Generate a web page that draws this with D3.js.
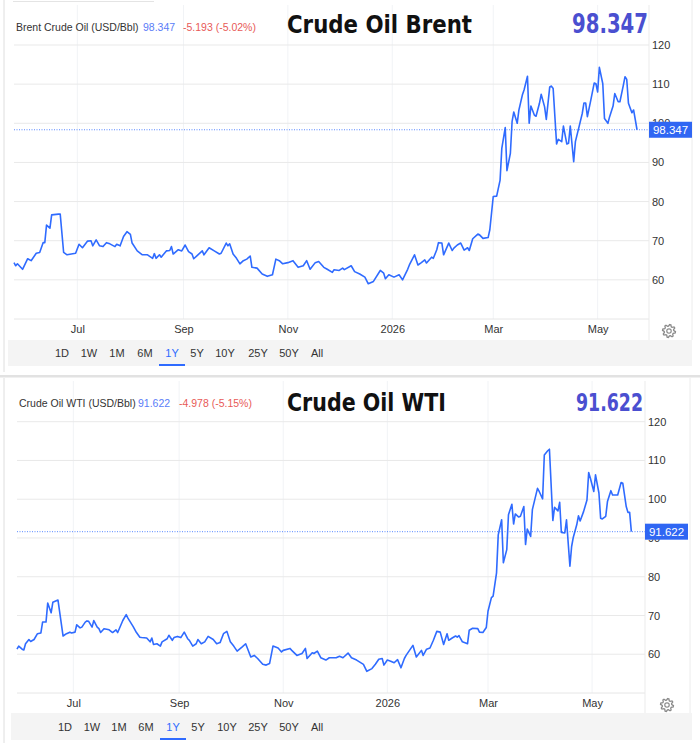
<!DOCTYPE html>
<html>
<head>
<meta charset="utf-8">
<script src="https://cdn.jsdelivr.net/npm/d3@7"></script>
<style>
  body { margin: 0; background: #fff; }
  svg text { font-family: "Liberation Sans", Arial, sans-serif; }
</style>
</head>
<body>
<svg id="chart" width="700" height="743"></svg>
<script>
// ---- dados ----
const yTicks = [60, 70, 80, 90, 100, 110, 120];
const monthTicks = ["2025-07-01", "2025-09-01", "2025-11-01", "2026-01-01", "2026-03-01", "2026-05-01"];
const monthLabels = ["Jul", "Sep", "Nov", "2026", "Mar", "May"];
const rangeButtons = ["1D", "1W", "1M", "6M", "1Y", "5Y", "10Y", "25Y", "50Y", "All"];
const activeRange = "1Y";

const brentDates = [
  "2025-05-25","2025-05-26","2025-05-27","2025-05-30","2025-06-02","2025-06-04","2025-06-07","2025-06-09","2025-06-11","2025-06-12",
  "2025-06-13","2025-06-15","2025-06-16","2025-06-20","2025-06-21","2025-06-23","2025-06-25","2025-06-30","2025-07-02","2025-07-04",
  "2025-07-07","2025-07-09","2025-07-10","2025-07-12","2025-07-14","2025-07-16","2025-07-18","2025-07-20","2025-07-23","2025-07-24",
  "2025-07-26","2025-07-28","2025-07-30","2025-08-01","2025-08-02","2025-08-05","2025-08-08","2025-08-11","2025-08-14","2025-08-15",
  "2025-08-16","2025-08-18","2025-08-19","2025-08-22","2025-08-24","2025-08-25","2025-08-26","2025-08-29","2025-08-31","2025-09-02",
  "2025-09-04","2025-09-06","2025-09-07","2025-09-09","2025-09-12","2025-09-13","2025-09-16","2025-09-19","2025-09-22","2025-09-23",
  "2025-09-26","2025-09-27","2025-09-28","2025-09-30","2025-10-02","2025-10-04","2025-10-06","2025-10-08","2025-10-10","2025-10-11",
  "2025-10-14","2025-10-17","2025-10-20","2025-10-23","2025-10-25","2025-10-27","2025-10-29","2025-11-01","2025-11-04","2025-11-07",
  "2025-11-10","2025-11-12","2025-11-14","2025-11-17","2025-11-19","2025-11-22","2025-11-24","2025-11-27","2025-11-28","2025-12-01",
  "2025-12-03","2025-12-04","2025-12-08","2025-12-10","2025-12-13","2025-12-16","2025-12-18","2025-12-21","2025-12-25","2025-12-27",
  "2025-12-28","2025-12-30","2026-01-02","2026-01-05","2026-01-07","2026-01-10","2026-01-11","2026-01-14","2026-01-16","2026-01-18",
  "2026-01-20","2026-01-21","2026-01-24","2026-01-25","2026-01-27","2026-01-28","2026-01-30","2026-01-31","2026-02-03","2026-02-05",
  "2026-02-06","2026-02-08","2026-02-10","2026-02-12","2026-02-14","2026-02-15","2026-02-17","2026-02-20","2026-02-21","2026-02-23",
  "2026-02-26","2026-02-27","2026-03-01","2026-03-03","2026-03-05","2026-03-06","2026-03-08","2026-03-09","2026-03-11","2026-03-12",
  "2026-03-13","2026-03-15","2026-03-16","2026-03-18","2026-03-19","2026-03-21","2026-03-22","2026-03-23","2026-03-25","2026-03-26",
  "2026-03-28","2026-03-29","2026-03-31","2026-04-01","2026-04-03","2026-04-04","2026-04-05","2026-04-07","2026-04-08","2026-04-10",
  "2026-04-11","2026-04-13","2026-04-14","2026-04-15","2026-04-17","2026-04-18","2026-04-20","2026-04-22","2026-04-23","2026-04-24",
  "2026-04-25","2026-04-27","2026-04-29","2026-04-30","2026-05-01","2026-05-02","2026-05-04","2026-05-05","2026-05-07","2026-05-08",
  "2026-05-10","2026-05-11","2026-05-13","2026-05-14","2026-05-16","2026-05-17","2026-05-18","2026-05-19","2026-05-21","2026-05-22",
  "2026-05-24"
];
const brentValues = [
  64.4, 63.6, 64.1, 62.7, 65.4, 64.9, 66.8, 67.0, 69.5, 69.5,
  74.0, 73.2, 76.6, 76.8, 76.8, 67.0, 66.4, 66.8, 69.1, 68.2,
  69.9, 70.0, 68.7, 70.2, 68.7, 68.5, 69.5, 69.2, 68.5, 69.1,
  68.7, 71.1, 72.3, 71.6, 69.4, 67.4, 66.4, 66.4, 65.5, 66.7,
  65.5, 66.4, 65.8, 67.4, 67.5, 68.5, 66.6, 67.7, 67.4, 68.9,
  67.2, 66.6, 65.4, 66.2, 67.4, 66.4, 68.2, 67.4, 66.6, 66.8,
  69.4, 68.7, 69.2, 66.6, 65.5, 64.1, 64.9, 65.3, 66.1, 63.2,
  63.0, 61.5, 60.9, 61.3, 65.3, 64.9, 64.1, 64.4, 64.9, 63.2,
  63.6, 64.9, 62.7, 64.4, 64.7, 63.2, 62.7, 61.9, 62.6, 62.4,
  63.0, 62.6, 63.6, 62.1, 61.5, 60.7, 59.0, 59.6, 62.4, 61.7,
  60.3, 61.3, 60.7, 61.3, 60.0, 62.7, 63.8, 66.4, 63.8, 64.4,
  65.1, 64.3, 65.8, 65.5, 67.7, 69.5, 69.4, 66.4, 69.4, 67.5,
  68.1, 68.9, 69.4, 67.6, 68.2, 67.5, 70.5, 71.7, 71.5, 70.6,
  70.8, 72.8, 81.3, 81.4, 85.5, 93.6, 98.9, 87.9, 92.3, 100.4,
  102.9, 100.0, 103.4, 107.2, 108.5, 112.0, 100.0, 104.4, 102.1, 101.8,
  105.1, 107.4, 104.2, 101.0, 109.3, 109.5, 108.9, 94.7, 95.9, 95.3,
  99.3, 94.7, 94.9, 99.3, 90.2, 95.3, 98.9, 102.5, 105.2, 105.2,
  101.7, 105.9, 110.3, 110.1, 108.0, 114.3, 110.1, 101.2, 100.0, 101.7,
  104.4, 107.6, 105.5, 105.5, 109.7, 111.9, 111.2, 105.1, 102.7, 103.4,
  98.347
];

const wtiDates = [
  "2025-05-29","2025-05-30","2025-06-01","2025-06-02","2025-06-03","2025-06-05","2025-06-06","2025-06-08","2025-06-10","2025-06-12",
  "2025-06-13","2025-06-15","2025-06-16","2025-06-18","2025-06-19","2025-06-21","2025-06-22","2025-06-25","2025-06-27","2025-06-29",
  "2025-06-30","2025-07-02","2025-07-03","2025-07-05","2025-07-06","2025-07-08","2025-07-09","2025-07-10","2025-07-12","2025-07-13",
  "2025-07-15","2025-07-16","2025-07-17","2025-07-19","2025-07-22","2025-07-24","2025-07-26","2025-07-27","2025-07-30","2025-08-01",
  "2025-08-02","2025-08-05","2025-08-07","2025-08-09","2025-08-10","2025-08-13","2025-08-15","2025-08-16","2025-08-17","2025-08-19",
  "2025-08-21","2025-08-22","2025-08-25","2025-08-26","2025-08-28","2025-08-29","2025-08-31","2025-09-02","2025-09-04","2025-09-06",
  "2025-09-07","2025-09-09","2025-09-11","2025-09-12","2025-09-14","2025-09-16","2025-09-18","2025-09-21","2025-09-23","2025-09-25",
  "2025-09-27","2025-09-29","2025-10-01","2025-10-03","2025-10-05","2025-10-08","2025-10-10","2025-10-13","2025-10-15","2025-10-17",
  "2025-10-20","2025-10-22","2025-10-24","2025-10-26","2025-10-29","2025-10-31","2025-11-01","2025-11-05","2025-11-06","2025-11-09",
  "2025-11-12","2025-11-14","2025-11-15","2025-11-18","2025-11-19","2025-11-21","2025-11-23","2025-11-26","2025-11-28","2025-11-30",
  "2025-12-02","2025-12-04","2025-12-06","2025-12-09","2025-12-11","2025-12-14","2025-12-18","2025-12-20","2025-12-23","2025-12-25",
  "2025-12-27","2025-12-29","2025-12-30","2026-01-01","2026-01-03","2026-01-05","2026-01-07","2026-01-09","2026-01-11","2026-01-12",
  "2026-01-16","2026-01-18","2026-01-21","2026-01-22","2026-01-24","2026-01-26","2026-01-28","2026-01-30","2026-02-01","2026-02-03",
  "2026-02-05","2026-02-06","2026-02-08","2026-02-10","2026-02-11","2026-02-12","2026-02-14","2026-02-17","2026-02-18","2026-02-20",
  "2026-02-23","2026-02-24","2026-02-26","2026-02-28","2026-03-01","2026-03-03","2026-03-04","2026-03-06","2026-03-07","2026-03-09",
  "2026-03-10","2026-03-12","2026-03-13","2026-03-15","2026-03-16","2026-03-17","2026-03-19","2026-03-20","2026-03-22","2026-03-23",
  "2026-03-24","2026-03-26","2026-03-27","2026-03-30","2026-03-31","2026-04-02","2026-04-03","2026-04-05","2026-04-06","2026-04-08",
  "2026-04-09","2026-04-11","2026-04-12","2026-04-13","2026-04-15","2026-04-16","2026-04-18","2026-04-19","2026-04-20","2026-04-22",
  "2026-04-23","2026-04-24","2026-04-26","2026-04-28","2026-04-29","2026-04-30","2026-05-02","2026-05-03","2026-05-05","2026-05-06",
  "2026-05-07","2026-05-09","2026-05-10","2026-05-12","2026-05-13","2026-05-15","2026-05-16","2026-05-18","2026-05-19","2026-05-21",
  "2026-05-22","2026-05-23","2026-05-24"
];
const wtiValues = [
  61.3, 62.1, 61.3, 61.1, 62.7, 63.8, 63.3, 63.8, 65.3, 65.5,
  68.3, 68.3, 73.2, 70.7, 73.4, 73.8, 74.0, 64.7, 65.3, 65.7,
  65.5, 65.7, 67.6, 66.8, 67.0, 68.3, 68.6, 68.5, 67.0, 68.7,
  67.0, 66.6, 65.6, 66.6, 66.3, 65.6, 66.3, 65.6, 68.7, 70.2,
  69.3, 67.2, 65.6, 64.4, 64.3, 64.2, 63.2, 64.2, 62.5, 62.7,
  62.1, 63.2, 64.0, 64.9, 63.6, 64.3, 64.6, 64.3, 65.7, 64.0,
  63.6, 62.1, 62.7, 63.8, 62.7, 63.2, 64.6, 63.8, 62.7, 63.0,
  65.3, 65.9, 63.2, 62.1, 60.8, 61.9, 62.7, 59.3, 59.7, 58.9,
  57.4, 57.2, 57.6, 62.1, 61.6, 60.6, 61.0, 61.5, 61.0, 59.7,
  60.2, 61.5, 58.9, 60.4, 60.2, 60.8, 59.1, 58.5, 59.1, 59.1,
  59.1, 59.5, 59.1, 60.3, 59.1, 58.5, 57.4, 55.6, 56.3, 57.4,
  58.7, 58.9, 57.2, 58.5, 58.2, 57.8, 58.6, 56.5, 58.9, 59.7,
  62.3, 59.3, 61.0, 59.7, 61.3, 61.6, 63.6, 65.9, 65.7, 62.5,
  65.3, 63.6, 64.2, 64.7, 64.4, 64.8, 63.2, 62.7, 66.2, 66.7,
  66.6, 65.7, 65.6, 66.9, 71.1, 74.6, 75.0, 81.0, 90.8, 94.7,
  83.6, 87.0, 96.0, 98.7, 93.6, 96.2, 95.4, 95.6, 98.1, 88.3,
  92.3, 90.4, 97.3, 102.8, 102.0, 100.1, 111.4, 112.5, 112.9, 94.5,
  97.9, 97.0, 99.2, 91.4, 91.3, 94.7, 82.7, 87.8, 90.2, 93.4,
  95.7, 94.4, 96.8, 99.8, 106.9, 105.4, 102.0, 106.3, 101.6, 95.1,
  94.9, 95.6, 99.4, 102.2, 101.1, 101.1, 101.1, 104.3, 104.1, 98.1,
  96.6, 96.6, 91.622
];

const brentText = { name: "Brent Crude Oil (USD/Bbl)", title: "Crude Oil Brent", change: "-5.193 (-5.02%)" };
const wtiText = { name: "Crude Oil WTI (USD/Bbl)", title: "Crude Oil WTI", change: "-4.978 (-5.15%)" };

// ---- layout de cada painel ----
const brentLayout = {
  top: 0, bottom: 372, left: 4, right: 692,
  plotLeft: 14, plotRight: 649, plotTop: 45, plotBottom: 319, gridTop: 5,
  domain: ["2025-05-25", "2026-05-31"],
  textBase: 31, titleBase: 33, nameX: 16, valueX: 143, changeX: 183,
  titleX: 287, titleW: 185, titleSize: 25, bigX: 572, bigW: 76, bigSize: 27,
  band: [8, 340, 684, 26], btnY: 357,
  btnX: [62, 89, 117, 145, 172, 197, 225, 258, 289, 317],
  gear: [669, 331], boxW: 43
};
const wtiLayout = {
  top: 378, bottom: 743, left: 4, right: 690,
  plotLeft: 17, plotRight: 645, plotTop: 421.7, plotBottom: 693, gridTop: 381,
  domain: ["2025-05-29", "2026-06-01"],
  textBase: 407, titleBase: 411, nameX: 19, valueX: 138, changeX: 179,
  titleX: 287, titleW: 159, titleSize: 24, bigX: 576, bigW: 67, bigSize: 24,
  band: [11, 713, 681, 27], btnY: 731,
  btnX: [65, 92, 119, 146, 173, 198, 227, 258, 289, 317],
  gear: [667, 705], boxW: 43
};

const parse = d3.timeParse("%Y-%m-%d");
const lineColor = "#2f6bff";
const svg = d3.select("#chart");

// separador entre os painéis
svg.append("rect").attr("x", 0).attr("y", 375).attr("width", 700).attr("height", 2.5).attr("fill", "#e2e2e2");
svg.append("line").attr("x1", 13).attr("x2", 154).attr("y1", 1.5).attr("y2", 1.5).attr("stroke", "#e4e4e4");

function gearPath(r1, r2, teeth) {
    const n = teeth * 4;
    const pts = d3.range(n).map(i => {
        const a = (i + 0.5) / n * 2 * Math.PI;
        const r = (i % 4 < 2) ? r1 : r2;
        return [Math.sin(a) * r, -Math.cos(a) * r];
    });
    return d3.line()(pts) + "Z";
}

function drawPanel(L, dates, values, txt) {
    const data = dates.map((d, i) => ({ date: parse(d), value: values[i] }));
    const last = data[data.length - 1];
    const g = svg.append("g");

    const x = d3.scaleTime().domain(L.domain.map(parse)).range([L.plotLeft, L.plotRight]);
    const y = d3.scaleLinear().domain([50, 120]).range([L.plotBottom, L.plotTop]);

    // moldura
    g.append("line").attr("x1", L.left).attr("x2", L.left).attr("y1", L.top).attr("y2", L.bottom).attr("stroke", "#dedede");
    g.append("line").attr("x1", L.right).attr("x2", L.right).attr("y1", L.top).attr("y2", L.band[1]).attr("stroke", "#ececec");

    // barra de períodos
    g.append("rect").attr("x", L.band[0]).attr("y", L.band[1]).attr("width", L.band[2]).attr("height", L.band[3])
        .attr("fill", "#f4f4f4");

    // grades
    g.selectAll(".vgrid").data(monthTicks.map(parse)).join("line")
        .attr("x1", d => x(d)).attr("x2", d => x(d))
        .attr("y1", L.gridTop).attr("y2", L.plotBottom)
        .attr("stroke", "#f1f3f6");
    g.selectAll(".hgrid").data(yTicks).join("line")
        .attr("x1", L.plotLeft).attr("x2", L.plotRight)
        .attr("y1", d => y(d)).attr("y2", d => y(d))
        .attr("stroke", "#e9e9e9");
    g.append("line").attr("x1", L.plotLeft).attr("x2", L.plotRight)
        .attr("y1", L.plotBottom).attr("y2", L.plotBottom).attr("stroke", "#e6e6e6");
    g.append("line").attr("x1", L.plotRight).attr("x2", L.plotRight)
        .attr("y1", L.gridTop).attr("y2", L.band[1]).attr("stroke", "#ebebeb");

    // eixo X
    g.append("g")
        .attr("transform", `translate(0,${L.plotBottom})`)
        .call(d3.axisBottom(x).tickValues(monthTicks.map(parse))
            .tickFormat((d, i) => monthLabels[i]).tickSize(0).tickPadding(6))
        .call(a => a.select(".domain").remove())
        .attr("font-family", null).attr("font-size", 11)
        .selectAll("text").attr("fill", "#333");

    // eixo Y
    g.append("g")
        .attr("transform", `translate(${L.plotRight},0)`)
        .call(d3.axisRight(y).tickValues(yTicks).tickSize(0).tickPadding(3))
        .call(a => a.select(".domain").remove())
        .attr("font-family", null).attr("font-size", 11)
        .selectAll("text").attr("fill", "#333");

    // linha de preço
    const line = d3.line().x(d => x(d.date)).y(d => y(d.value));
    g.append("path")
        .datum(data)
        .attr("fill", "none")
        .attr("stroke", lineColor)
        .attr("stroke-width", 1.6)
        .attr("stroke-linejoin", "round")
        .attr("d", line);

    // último valor
    g.append("line")
        .attr("x1", L.plotLeft).attr("x2", L.plotRight)
        .attr("y1", y(last.value)).attr("y2", y(last.value))
        .attr("stroke", lineColor).attr("stroke-width", 0.8).attr("stroke-dasharray", "1,1.5");
    g.append("rect")
        .attr("x", L.plotRight).attr("y", y(last.value) - 8)
        .attr("width", L.boxW).attr("height", 16)
        .attr("fill", "#2f66f3");
    g.append("text")
        .attr("x", L.plotRight + L.boxW / 2).attr("y", y(last.value) + 4)
        .attr("text-anchor", "middle").attr("font-size", 11.5).attr("fill", "#fff")
        .text(last.value.toFixed(3));

    // cabeçalho
    g.append("text").attr("x", L.nameX).attr("y", L.textBase)
        .attr("font-size", 10.5).attr("fill", "#333").text(txt.name);
    g.append("text").attr("x", L.valueX).attr("y", L.textBase)
        .attr("font-size", 10.5).attr("fill", "#5a7df8").text(last.value.toFixed(3));
    g.append("text").attr("x", L.changeX).attr("y", L.textBase)
        .attr("font-size", 10.5).attr("fill", "#e85a57").text(txt.change);
    g.append("text").attr("x", L.titleX).attr("y", L.titleBase)
        .style("font-family", "'Liberation Sans Narrow', 'DejaVu Sans Condensed', sans-serif")
        .attr("font-weight", "bold").attr("font-size", L.titleSize).attr("fill", "#111")
        .attr("textLength", L.titleW).attr("lengthAdjust", "spacingAndGlyphs")
        .text(txt.title);
    g.append("text").attr("x", L.bigX).attr("y", L.titleBase)
        .style("font-family", "'Liberation Sans Narrow', 'DejaVu Sans Condensed', sans-serif")
        .attr("font-weight", "bold").attr("font-size", L.bigSize).attr("fill", "#4a4fd0")
        .attr("textLength", L.bigW).attr("lengthAdjust", "spacingAndGlyphs")
        .text(last.value.toFixed(3));

    // botões de período
    g.selectAll(".btn").data(rangeButtons).join("text")
        .attr("x", (d, i) => L.btnX[i]).attr("y", L.btnY)
        .attr("text-anchor", "middle").attr("font-size", 11)
        .attr("fill", d => d === activeRange ? "#2f6bff" : "#333")
        .text(d => d);
    const ai = rangeButtons.indexOf(activeRange);
    g.append("rect")
        .attr("x", L.btnX[ai] - 13).attr("y", L.band[1] + L.band[3] - 2)
        .attr("width", 26).attr("height", 2).attr("fill", "#2f6bff");

    // engrenagem
    const gear = g.append("g").attr("transform", `translate(${L.gear[0]},${L.gear[1]})`);
    gear.append("path").attr("d", gearPath(6.5, 4.8, 8))
        .attr("fill", "none").attr("stroke", "#8a8a8a").attr("stroke-width", 1.3);
    gear.append("circle").attr("r", 2.2).attr("fill", "none").attr("stroke", "#8a8a8a").attr("stroke-width", 1.2);
}

drawPanel(brentLayout, brentDates, brentValues, brentText);
drawPanel(wtiLayout, wtiDates, wtiValues, wtiText);
</script>
</body>
</html>
